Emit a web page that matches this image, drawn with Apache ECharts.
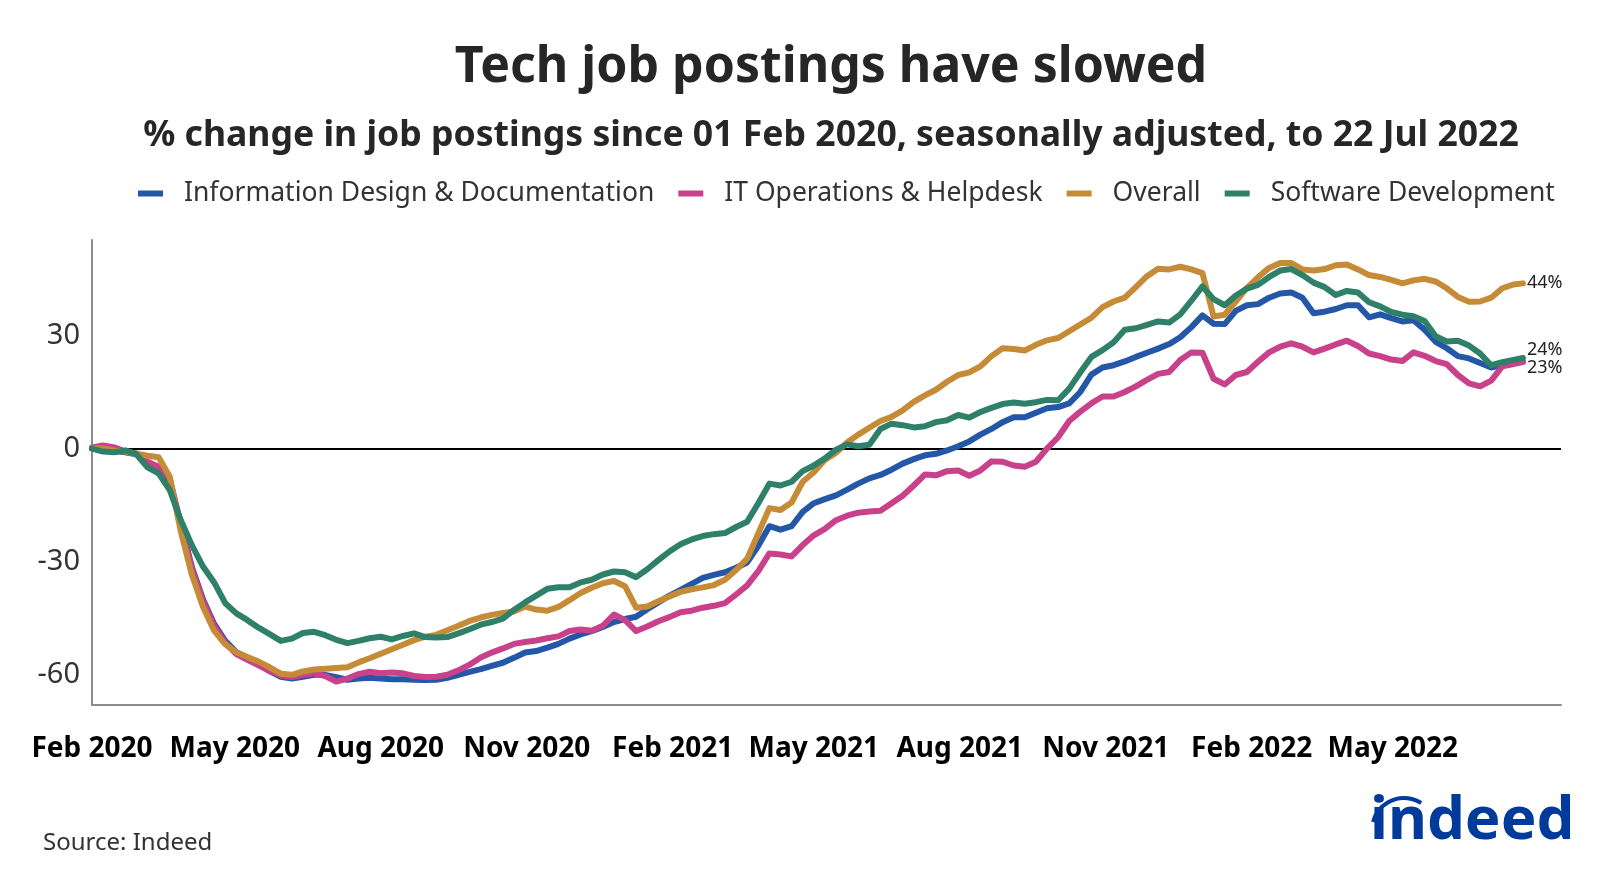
<!DOCTYPE html>
<html>
<head>
<meta charset="utf-8">
<script src="https://cdn.jsdelivr.net/npm/echarts@6/dist/echarts.min.js"></script>
<style>
html,body{margin:0;padding:0;background:#fff;}
#chart{width:1600px;height:873px;}
</style>
</head>
<body>
<div id="chart"></div>
<script>
// ---------- DATA ----------
const startDate = '2020-02-01';
const endDate = '2022-07-22';
// weekly observation dates from 01 Feb 2020, plus final date 22 Jul 2022
const dates = [];
(function(){
  const s = Date.UTC(2020,1,1);
  for (let i = 0; i <= 128; i++) {
    dates.push(new Date(s + i*7*86400000).toISOString().slice(0,10));
  }
  dates.push(endDate);
})();

const seriesNames = ['Information Design & Documentation','IT Operations & Helpdesk','Overall','Software Development'];

const infoDesign = [
0,-0.3,-0.5,-1,-1.5,-4.5,-6.5,-9,-20,-31.5,
-40,-46.5,-51,-54,-55.5,-57,-59,-60.5,-61,-60.5,
-60,-60,-60.6,-61.3,-61,-60.8,-61,-61.2,-61.2,-61.3,
-61.4,-61.3,-60.8,-60,-59.2,-58.5,-57.6,-56.8,-55.5,-54.1,
-53.7,-52.8,-51.8,-50.4,-49.3,-48.4,-47.3,-46,-45.2,-44.6,
-42.6,-40.8,-39,-37.5,-35.9,-34.3,-33.5,-32.8,-31.6,-30.2,
-25.8,-20.6,-21.5,-20.6,-16.8,-14.5,-13.4,-12.4,-10.9,-9.3,
-7.9,-7,-5.6,-4,-2.8,-1.8,-1.4,-0.5,0.6,1.9,
3.7,5.2,7,8.3,8.3,9.5,10.7,11,12,15,
19.6,21.5,22.1,23.1,24.3,25.4,26.5,27.7,29.5,32.2,
35.3,33.1,33,36.5,38,38.3,40,41.1,41.4,40,
35.9,36.3,37,38,38,34.8,35.6,34.6,33.7,34,
31.5,28.3,26.6,24.5,23.9,22.7,21.5,22.2,22.6,23
];

const itOps = [
0.3,0.8,0.3,-0.8,-1.3,-3.5,-4.8,-8,-20,-32,
-40.5,-47,-51.5,-54.5,-56,-57.5,-59,-60.2,-60.6,-60,
-59.6,-60.3,-61.8,-61,-59.8,-59.2,-59.6,-59.4,-59.6,-60.3,
-60.6,-60.5,-60,-58.8,-57.3,-55.4,-54.1,-53,-51.8,-51.3,
-50.9,-50.3,-49.8,-48.4,-48,-48.3,-47,-44,-45.5,-48.4,
-47.2,-45.8,-44.7,-43.4,-43,-42.2,-41.7,-41,-38.7,-36.3,
-32.5,-27.8,-28.1,-28.6,-25.6,-23,-21.3,-19,-17.8,-17,
-16.7,-16.5,-14.5,-12.5,-9.8,-6.9,-7.1,-6,-5.8,-7.2,
-5.8,-3.4,-3.5,-4.5,-4.8,-3.5,0,3,7.3,9.8,
12,13.8,13.8,15,16.5,18.2,19.8,20.3,23.5,25.5,
25.4,18.5,17,19.5,20.3,23,25.5,27,27.9,27,
25.5,26.5,27.6,28.6,27.2,25.2,24.5,23.6,23.2,25.5,
24.6,23.2,22.4,19.5,17.3,16.5,18,21.8,22.4,23
];

const overall = [
0,0,-0.5,-0.8,-1.4,-1.9,-2.3,-7.5,-22,-33.5,
-42,-48.3,-51.9,-54,-55.3,-56.5,-58,-59.7,-60,-59.1,
-58.6,-58.4,-58.2,-58,-56.7,-55.6,-54.4,-53.2,-52,-50.8,
-49.9,-49.4,-48.2,-47,-45.7,-44.8,-44.1,-43.6,-43.2,-41.9,
-42.7,-43,-42,-40.2,-38.3,-36.9,-35.7,-35.1,-36.5,-42.2,
-41.9,-40.5,-39.2,-38,-37.3,-36.8,-36.2,-34.8,-32.2,-29.2,
-22.5,-15.8,-16.3,-14.3,-8.8,-6.3,-3,-1.1,1.6,3.7,
5.5,7.3,8.4,10.1,12.4,14.1,15.6,17.7,19.5,20.2,
21.8,24.5,26.6,26.4,26,27.5,28.7,29.3,31.1,32.9,
34.7,37.5,39,40,42.8,45.7,47.7,47.5,48.2,47.5,
46.5,35,35.5,39,42.6,45.4,47.9,49.2,49.2,47.5,
47.2,47.6,48.6,48.8,47.5,46,45.5,44.7,43.8,44.6,
45,44.3,42.5,40.2,38.9,39,40,42.5,43.5,43.8
];

const softwareDev = [
0,-0.8,-1,-0.5,-1.5,-5,-6.6,-11,-19,-25.7,
-31.3,-35.5,-41,-43.7,-45.5,-47.5,-49.2,-51,-50.4,-48.9,
-48.6,-49.5,-50.7,-51.6,-51,-50.3,-49.9,-50.6,-49.7,-49,
-50,-50.1,-50,-49,-47.9,-46.7,-46,-45.1,-42.8,-40.8,
-39,-37.2,-36.8,-36.8,-35.5,-34.8,-33.4,-32.6,-32.8,-34.1,
-32,-29.6,-27.3,-25.4,-24.1,-23.2,-22.7,-22.4,-20.8,-19.4,
-14.5,-9.3,-9.8,-8.8,-6,-4.5,-2.6,-0.3,1.1,0.6,
1,5.2,6.6,6.2,5.6,5.9,7,7.5,8.9,8.2,
9.7,10.8,11.8,12.2,11.9,12.3,12.9,12.8,15.9,20.2,
24.3,26.1,28.2,31.5,31.9,32.8,33.7,33.4,35.6,39.2,
43,39.6,38,40.6,42.4,43.4,45.5,47.2,47.6,46,
44,42.8,40.7,41.8,41.4,38.8,37.7,36.2,35.5,35.1,
33.8,29.8,28.4,28.6,27.3,25.2,22.1,22.9,23.5,24
];

const xTickDates = ['2020-02-01','2020-05-01','2020-08-01','2020-11-01','2021-02-01','2021-05-01','2021-08-01','2021-11-01','2022-02-01','2022-05-01'];
const xTickLabels = ['Feb 2020','May 2020','Aug 2020','Nov 2020','Feb 2021','May 2021','Aug 2021','Nov 2021','Feb 2022','May 2022'];
const yTickValues = [-60,-30,0,30];

// ---------- HELPERS ----------
function dayIndex(d){
  const [y,m,dd] = d.split('-').map(Number);
  const [sy,sm,sd] = startDate.split('-').map(Number);
  return Math.round((Date.UTC(y,m-1,dd) - Date.UTC(sy,sm-1,sd))/86400000);
}
const tickDays = xTickDates.map(dayIndex);
const colors = ['#2457A7','#C9408B','#C68B37','#2E8069'];
const valuesList = [infoDesign, itOps, overall, softwareDev];
const FONT = '"Noto Sans", "Open Sans", sans-serif';

const labelOffsets = [null, [0, 6], [0, 0], [0, -8]];

const series = seriesNames.map((name, k) => {
  const s = {
    name: name,
    type: 'line',
    showSymbol: false,
    symbol: 'none',
    smooth: false,
    lineStyle: { width: 6, color: colors[k], cap: 'round', join: 'round' },
    itemStyle: { color: colors[k] },
    emphasis: { disabled: true },
    z: 3 + k,
    data: dates.map((d, i) => [dayIndex(d), valuesList[k][i]])
  };
  if (labelOffsets[k]) {
    s.endLabel = {
      show: true,
      formatter: p => Math.round(p.value[1]) + '%',
      fontFamily: FONT,
      fontSize: 18,
      color: '#222',
      distance: 4,
      offset: labelOffsets[k]
    };
  }
  return s;
});

// zero reference line
series[0].markLine = {
  silent: true,
  symbol: 'none',
  label: { show: false },
  lineStyle: { color: '#000', width: 2, type: 'solid' },
  data: [{ yAxis: 0 }],
  z: 2
};

const chart = echarts.init(document.getElementById('chart'));
chart.setOption({
  backgroundColor: '#fff',
  animation: false,
  color: colors,
  title: [
    {
      text: 'Tech job postings have slowed',
      left: 826, top: 38, textAlign: 'center',
      textStyle: { fontFamily: FONT, fontSize: 50, fontWeight: 'bold', color: '#262626' }
    },
    {
      text: '% change in job postings since 01 Feb 2020, seasonally adjusted, to 22 Jul 2022',
      left: 826, top: 113, textAlign: 'center',
      textStyle: { fontFamily: FONT, fontSize: 35.6, fontWeight: 'bold', color: '#262626' }
    }
  ],
  legend: {
    top: 175, left: 133,
    icon: 'rect',
    itemWidth: 25, itemHeight: 6,
    itemGap: 24,
    selectedMode: false,
    textStyle: { fontFamily: FONT, fontSize: 26.5, color: '#333', padding: [0, 0, 0, 16] },
    data: seriesNames
  },
  grid: { left: 92, right: 39, top: 240, bottom: 168, containLabel: false },
  xAxis: {
    type: 'value',
    min: 0, max: 926,
    axisLine: { show: true, onZero: false, lineStyle: { color: '#8c8c8c', width: 2 } },
    axisTick: { show: false },
    splitLine: { show: false },
    axisLabel: {
      customValues: tickDays,
      formatter: v => { const j = tickDays.indexOf(Math.round(v)); return j >= 0 ? xTickLabels[j] : ''; },
      fontFamily: FONT, fontSize: 28, fontWeight: 'bold', color: '#000',
      margin: 30
    }
  },
  yAxis: {
    type: 'value',
    min: -68, max: 55.3,
    axisLine: { show: true, onZero: false, lineStyle: { color: '#8c8c8c', width: 2 } },
    axisTick: { show: false },
    splitLine: { show: false },
    axisLabel: {
      customValues: yTickValues,
      fontFamily: FONT, fontSize: 29, color: '#333',
      margin: 12
    }
  },
  graphic: [
    {
      type: 'text', left: 43, top: 831,
      style: { text: 'Source: Indeed', fontFamily: FONT, fontSize: 24, fill: '#333' }
    },
    {
      type: 'text', left: 1370, top: 792,
      style: { text: 'indeed', fontFamily: FONT, fontSize: 60, fontWeight: 'bold', fill: '#003A9B' }
    },
    {
      type: 'arc',
      shape: { cx: 1404, cy: 830, r: 32, startAngle: -Math.PI*0.92, endAngle: -Math.PI*0.32 },
      style: { stroke: '#003A9B', lineWidth: 4, fill: null }
    }
  ],
  series: series
});
</script>
</body>
</html>
